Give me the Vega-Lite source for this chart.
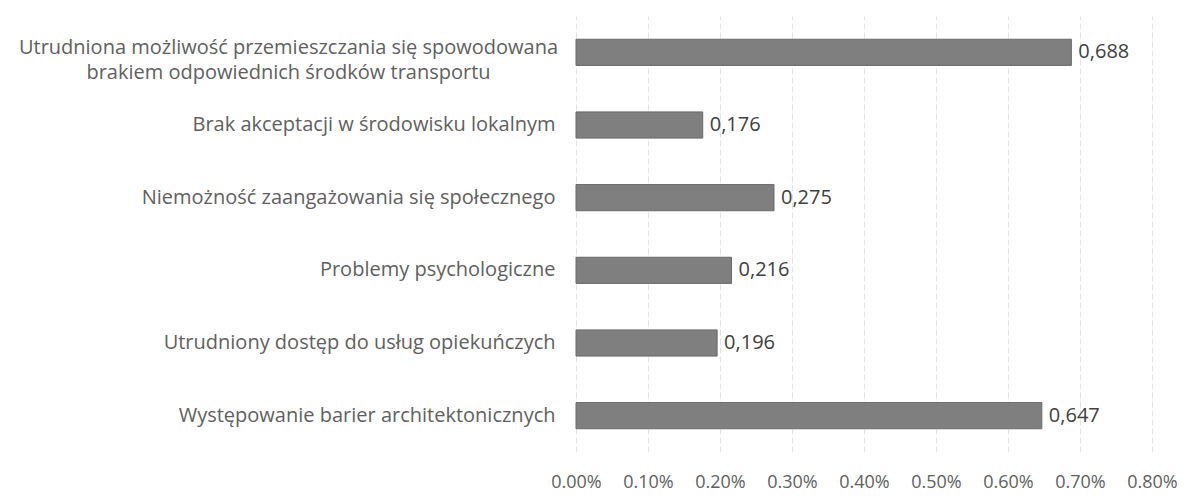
{
  "$schema": "https://vega.github.io/schema/vega-lite/v6.json",
  "autosize": {"type": "none"},
  "padding": {"left": 576, "top": 16, "right": 51, "bottom": 52},
  "width": 576,
  "height": 436,
  "background": "white",
  "config": {"view": {"stroke": null}, "font": "Open Sans"},
  "data": {"values": [
    {"cat": "Utrudniona możliwość przemieszczania się spowodowana brakiem odpowiednich środków transportu", "v": 0.688},
    {"cat": "Brak akceptacji w środowisku lokalnym", "v": 0.176},
    {"cat": "Niemożność zaangażowania się społecznego", "v": 0.275},
    {"cat": "Problemy psychologiczne", "v": 0.216},
    {"cat": "Utrudniony dostęp do usług opiekuńczych", "v": 0.196},
    {"cat": "Występowanie barier architektonicznych", "v": 0.647}
  ]},
  "transform": [{"calculate": "replace(format(datum.v, '.3f'), '.', ',')", "as": "lab"}],
  "encoding": {
    "y": {"field": "cat", "type": "nominal", "sort": null, "title": null,
      "scale": {"paddingInner": 0.64, "paddingOuter": 0.32},
      "axis": {"domain": false, "ticks": false, "grid": false, "labelFontSize": 20, "labelColor": "#606060", "labelFont": "Open Sans",
        "labelLimit": 600, "labelLineHeight": 25,
        "labelAlign": {"condition": {"test": "indexof(datum.value, 'spowodowana') > 0", "value": "center"}, "value": "right"},
        "labelPadding": {"condition": {"test": "indexof(datum.value, 'spowodowana') > 0", "value": 288}, "value": 21},
        "labelOffset": {"condition": {"test": "indexof(datum.value, 'spowodowana') > 0", "value": -4}, "value": 0},
        "labelExpr": "indexof(datum.value, 'spowodowana') > 0 ? ['Utrudniona możliwość przemieszczania się spowodowana', 'brakiem odpowiednich środków transportu'] : datum.value"}}
  },
  "layer": [
    {"mark": {"type": "bar", "color": "#7f7f7f", "stroke": "#6a6a6a", "strokeWidth": 1},
     "encoding": {"x": {"field": "v", "type": "quantitative", "title": null,
       "scale": {"domain": [0, 0.8], "nice": false},
       "axis": {"values": [0, 0.1, 0.2, 0.3, 0.4, 0.5, 0.6, 0.7, 0.8], "labelExpr": "format(datum.value, '.2f') + '%'",
         "labelOverlap": false, "labelBound": false, "labelFlush": false,
         "domain": false, "ticks": false, "labelPadding": 21, "labelFontSize": 18, "labelColor": "#606060", "labelFont": "Open Sans",
         "gridColor": "#e3e3e3", "gridDash": [6, 3], "gridWidth": 1}}}},
    {"mark": {"type": "text", "align": "left", "dx": 7, "fontSize": 20, "color": "#404040", "font": "Open Sans"},
     "encoding": {"x": {"field": "v", "type": "quantitative"}, "text": {"field": "lab"}}}
  ]
}
